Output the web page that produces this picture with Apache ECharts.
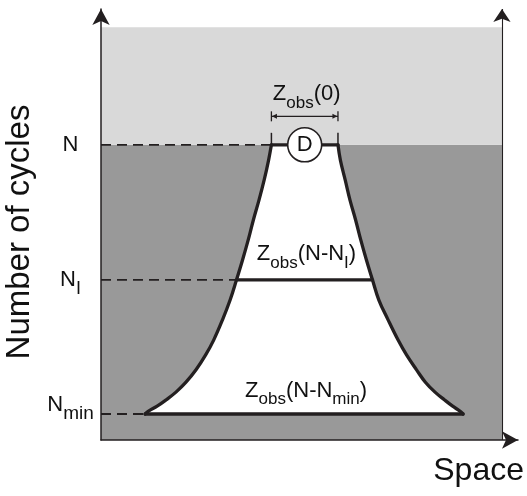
<!DOCTYPE html>
<html>
<head>
<meta charset="utf-8">
<script src="https://cdn.jsdelivr.net/npm/echarts@6/dist/echarts.min.js"></script>
<style>
html,body{margin:0;padding:0;background:#fff;}
#chart{width:527px;height:496px;}
</style>
</head>
<body>
<div id="chart"></div>
<script>
// ---- data ----
const cycleLevelNames = ['N_min', 'N_I', 'N'];
const cycleLevels = [6.3, 38.8, 71.5];
const curveY = [6.3, 7.0, 8.2, 9.7, 11.6, 14.0, 17.0, 20.6, 24.2, 29.1, 33.9, 38.8, 43.6, 48.4, 53.3, 58.1, 63.0, 67.8, 71.5];
const leftX  = [11.0, 11.85, 14.0, 16.2, 18.7, 21.2, 23.7, 26.1, 28.1, 30.3, 32.2, 33.8, 35.3, 36.7, 38.0, 39.4, 40.7, 41.8, 42.5];
const rightX = [90.3, 89.5, 87.7, 85.7, 83.3, 80.9, 78.7, 76.2, 74.1, 71.6, 69.3, 67.7, 66.2, 64.8, 63.5, 62.1, 60.9, 59.7, 59.1];
const obsLabels = ['Z_obs(N-N_min)', 'Z_obs(N-N_I)', 'Z_obs(0)'];
const detectorLabel = 'D';
const dimensionY = 78.4;
const spaceTop = 100;
const cyclesTop = 100;
const xAxisName = 'Space';
const yAxisName = 'Number of cycles';

// ---- layout / style ----
const STROKE = '#231f20';
const TEXT = '#111111';
const FONT = "'Liberation Sans', Arial, Helvetica, sans-serif";
const X_MAX = 104.0;
const Y_MAX = 104.4;

function richify(str, m, s) {
  m = m || 'm'; s = s || 's';
  return ('{' + m + '|' + str.replace(/_([A-Za-z0-9]+)/g, '}{' + s + '|$1}{' + m + '|') + '}')
    .replace(new RegExp('\\{' + m + '\\|\\}', 'g'), '');
}
const richStyle = {
  m: { fontSize: 22, lineHeight: 24, color: TEXT, fontFamily: FONT },
  s: { fontSize: 17, lineHeight: 17, color: TEXT, fontFamily: FONT, padding: [18, 0, 0, 0] }
};
const levelIdx = cycleLevels.map(v => curveY.indexOf(v));
const topIdx = curveY.length - 1;
const levelN = cycleLevels[2];

const series = [];

// background regions
series.push({
  type: 'custom', z: 1, silent: true,
  data: [[0, 0, spaceTop, levelN], [0, levelN, spaceTop, cyclesTop]],
  renderItem: function (params, api) {
    const p0 = api.coord([api.value(0), api.value(1)]);
    const p1 = api.coord([api.value(2), api.value(3)]);
    return {
      type: 'rect',
      shape: { x: p0[0], y: p1[1], width: p1[0] - p0[0], height: p0[1] - p1[1] },
      style: { fill: params.dataIndex === 0 ? '#999999' : '#d9d9d9' }
    };
  }
});

// white fill of the shape
series.push({
  type: 'custom', z: 2, silent: true,
  data: [[0]],
  renderItem: function (params, api) {
    const pts = [];
    for (let i = 0; i < curveY.length; i++) pts.push(api.coord([leftX[i], curveY[i]]));
    for (let i = curveY.length - 1; i >= 0; i--) pts.push(api.coord([rightX[i], curveY[i]]));
    return { type: 'polygon', shape: { points: pts }, style: { fill: '#ffffff' } };
  }
});

// dashed level guides
cycleLevels.forEach(function (lv, k) {
  series.push({
    type: 'line', z: 3, silent: true, symbol: 'none',
    data: [[0, lv], [leftX[levelIdx[k]], lv]],
    lineStyle: { color: STROKE, width: 1.8, type: [10, 6] }
  });
});

// curved sides
[leftX, rightX].forEach(function (xs) {
  series.push({
    type: 'line', z: 4, silent: true, symbol: 'none', smooth: 0.4,
    data: curveY.map((y, i) => [xs[i], y]),
    lineStyle: { color: STROKE, width: 3.3, cap: 'round' }
  });
});

// horizontal level segments across the shape
cycleLevels.forEach(function (lv, k) {
  series.push({
    type: 'line', z: 4, silent: true, symbol: 'none',
    data: [[leftX[levelIdx[k]], lv], [rightX[levelIdx[k]], lv]],
    lineStyle: { color: STROKE, width: 3.3, cap: 'round' }
  });
});

// dimension bracket for Z_obs(0)
series.push({
  type: 'custom', z: 5, silent: true,
  data: [[0]],
  renderItem: function (params, api) {
    const a = api.coord([leftX[topIdx], dimensionY]);
    const b = api.coord([rightX[topIdx], dimensionY]);
    const ta = api.coord([leftX[topIdx], levelN]);
    const tb = api.coord([rightX[topIdx], levelN]);
    const ls = { stroke: STROKE, lineWidth: 1.3 };
    const children = [
      { type: 'line', shape: { x1: a[0], y1: a[1], x2: b[0], y2: b[1] }, style: ls },
      { type: 'line', shape: { x1: a[0], y1: a[1] - 5, x2: a[0], y2: a[1] + 5 }, style: ls },
      { type: 'line', shape: { x1: b[0], y1: b[1] - 5, x2: b[0], y2: b[1] + 5 }, style: ls },
      { type: 'polygon', shape: { points: [[a[0] + 0.5, a[1]], [a[0] + 5.5, a[1] - 2.5], [a[0] + 5.5, a[1] + 2.5]] }, style: { fill: STROKE } },
      { type: 'polygon', shape: { points: [[b[0] - 0.5, b[1]], [b[0] - 5.5, b[1] - 2.5], [b[0] - 5.5, b[1] + 2.5]] }, style: { fill: STROKE } },
      { type: 'line', shape: { x1: ta[0], y1: ta[1] - 12, x2: ta[0], y2: ta[1] }, style: { stroke: STROKE, lineWidth: 1.5 } },
      { type: 'line', shape: { x1: tb[0], y1: tb[1] - 12, x2: tb[0], y2: tb[1] }, style: { stroke: STROKE, lineWidth: 1.5 } }
    ];
    return { type: 'group', children: children };
  }
});

// detector circle
series.push({
  type: 'scatter', z: 6, silent: true,
  symbol: 'circle', symbolSize: 34,
  data: [[(leftX[topIdx] + rightX[topIdx]) / 2, levelN]],
  itemStyle: { color: '#ffffff', borderColor: STROKE, borderWidth: 1.6, opacity: 1 },
  label: { show: true, position: 'inside', formatter: detectorLabel, fontSize: 22, color: TEXT, fontFamily: FONT, opacity: 1 }
});

// right-hand vertical axis with arrow
series.push({
  type: 'lines', coordinateSystem: 'cartesian2d', z: 7, silent: true,
  symbol: ['none', 'arrow'], symbolSize: 13,
  data: [{ coords: [[spaceTop, 0], [spaceTop, Y_MAX]] }],
  lineStyle: { color: STROKE, width: 1.1, opacity: 1 }
});

// Z_obs labels
const labelOffsets = [[2, -23.5], [2, -26], [2, -22]];
const labelYs = [cycleLevels[0], cycleLevels[1], dimensionY];
series.push({
  type: 'scatter', z: 8, silent: true,
  symbol: 'circle', symbolSize: 1,
  itemStyle: { color: 'rgba(0,0,0,0)', opacity: 1 },
  data: obsLabels.map(function (txt, k) {
    const idx = k < 2 ? levelIdx[k] : topIdx;
    return {
      value: [(leftX[idx] + rightX[idx]) / 2, labelYs[k]],
      label: { show: true, position: 'inside', offset: labelOffsets[k], formatter: richify(txt), rich: richStyle, opacity: 1 }
    };
  })
});

const option = {
  animation: false,
  backgroundColor: '#ffffff',
  grid: { left: 101, right: 9, top: 9, bottom: 56, containLabel: false, outerBoundsMode: 'none' },
  xAxis: {
    type: 'value', min: 0, max: X_MAX, z: 10,
    axisLine: { show: true, onZero: false, symbol: ['none', 'arrow'], symbolSize: [13, 16], lineStyle: { color: STROKE, width: 1.5 } },
    axisTick: { show: false }, axisLabel: { show: false }, splitLine: { show: false },
    name: xAxisName, nameLocation: 'end', nameGap: 6,
    nameTextStyle: { fontSize: 32, color: TEXT, fontFamily: FONT, align: 'right', verticalAlign: 'top', lineHeight: 62 }
  },
  yAxis: {
    type: 'value', min: 0, max: Y_MAX, z: 10,
    axisLine: { show: true, onZero: false, symbol: ['none', 'arrow'], symbolSize: [13, 16], lineStyle: { color: STROKE, width: 1.5 } },
    axisTick: { show: false }, splitLine: { show: false },
    axisLabel: {
      show: true, customValues: cycleLevels, margin: 30.5, align: 'center',
      formatter: function (v) {
        const i = cycleLevels.indexOf(v);
        if (i < 0) return '';
        return i === 0 ? richify(cycleLevelNames[i], 'mu', 'su') : richify(cycleLevelNames[i]);
      },
      rich: {
        m: { fontSize: 22, lineHeight: 24, color: TEXT, fontFamily: FONT },
        s: { fontSize: 18, lineHeight: 18, color: TEXT, fontFamily: FONT, padding: [18, 0, 0, 0] },
        mu: { fontSize: 22, lineHeight: 24, color: TEXT, fontFamily: FONT, padding: [0, 0, 18, 0] },
        su: { fontSize: 19, lineHeight: 19, color: TEXT, fontFamily: FONT, padding: [18, 0, 18, 0] }
      }
    },
    name: yAxisName, nameLocation: 'middle', nameGap: 58,
    nameTextStyle: { fontSize: 33, color: TEXT, fontFamily: FONT, padding: [0, 15, 0, 0] }
  },
  series: series
};

const chart = echarts.init(document.getElementById('chart'), null, { renderer: 'canvas' });
chart.setOption(option);
</script>
</body>
</html>
